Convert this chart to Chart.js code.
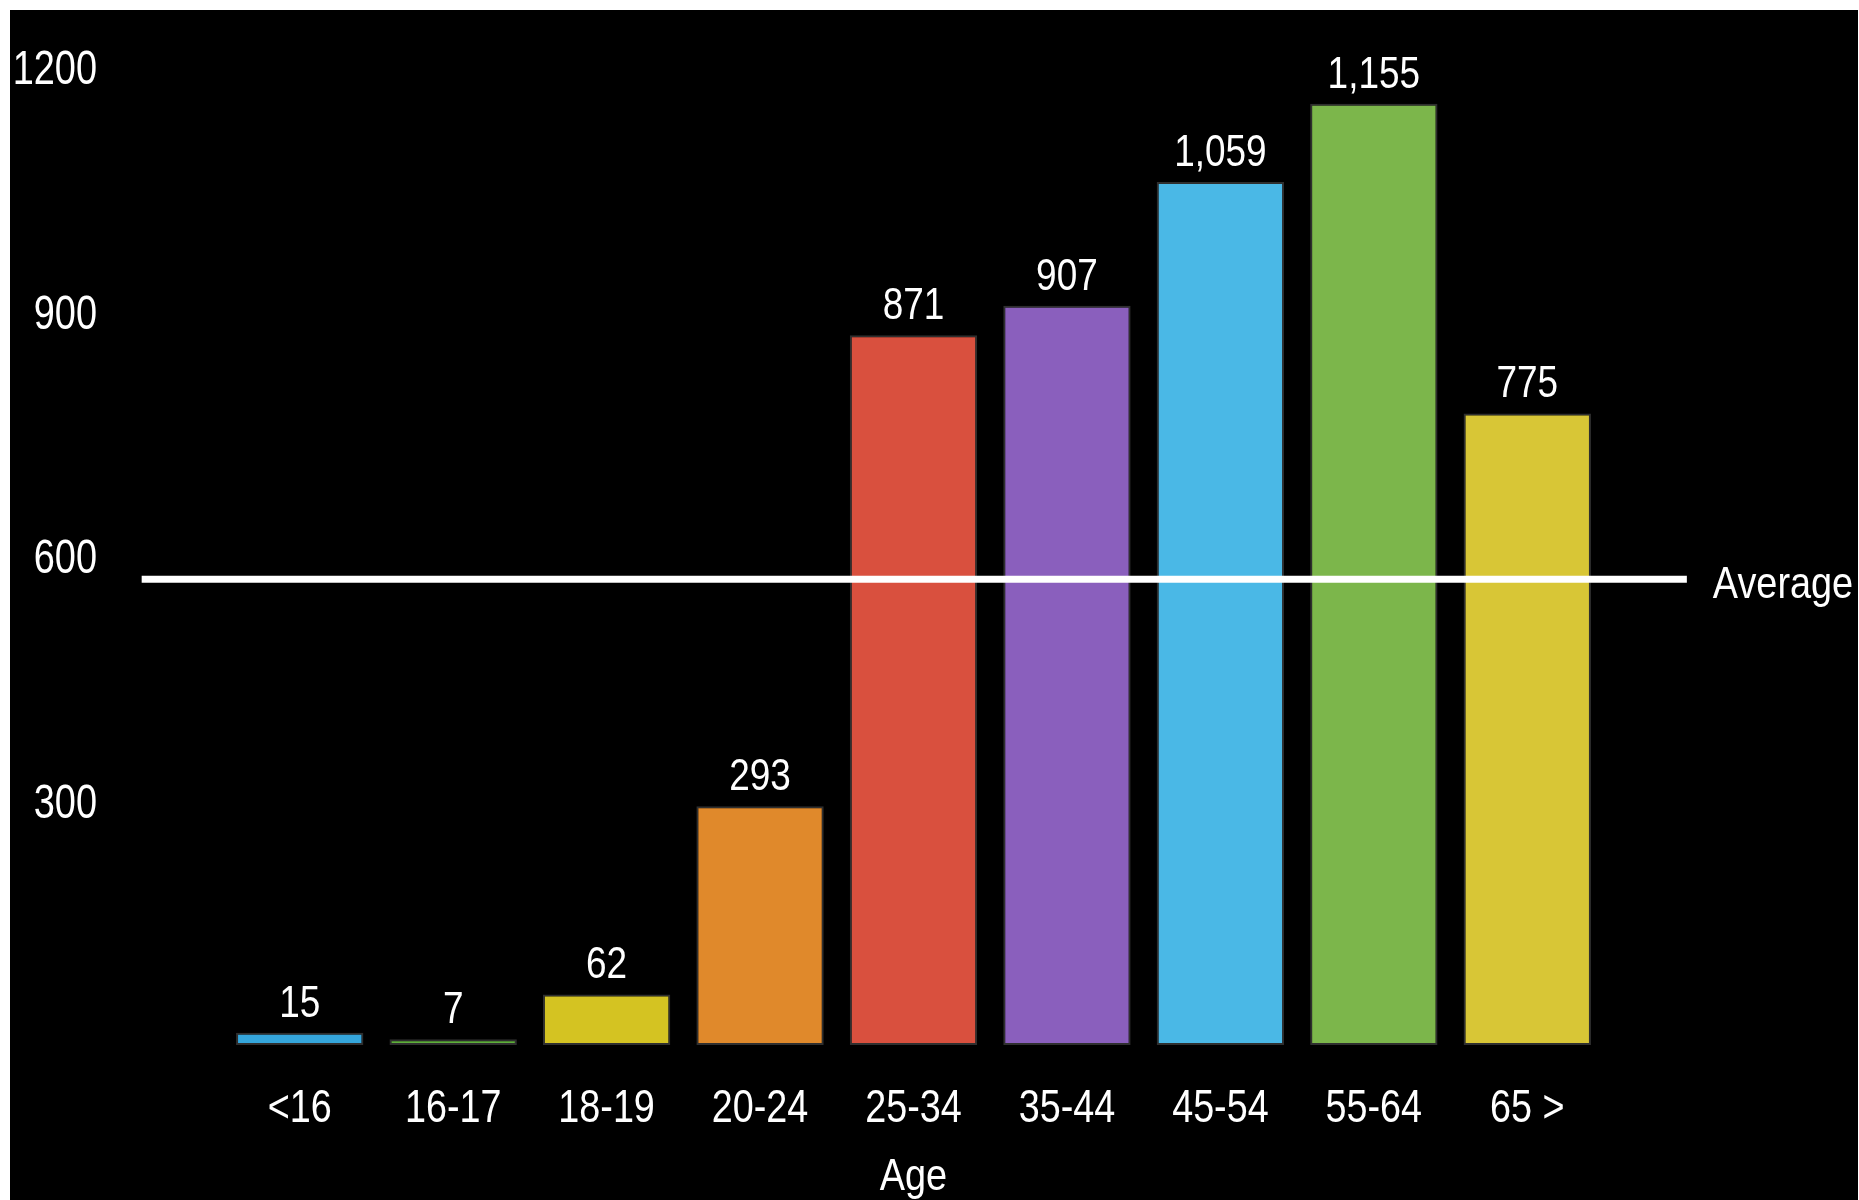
<!DOCTYPE html>
<html>
<head>
<meta charset="utf-8">
<script src="https://cdn.jsdelivr.net/npm/chart.js@4/dist/chart.umd.min.js"></script>
<style>
  html, body { margin: 0; padding: 0; background: #ffffff; }
  #wrap { position: absolute; left: 10px; top: 10px; width: 1848px; height: 1190px; background: #000000; }
</style>
</head>
<body>
<div id="wrap"><canvas id="chart"></canvas></div>
<script>
  'use strict';

  const AGE_GROUPS = ['<16', '16-17', '18-19', '20-24', '25-34', '35-44', '45-54', '55-64', '65 >'];
  const COUNTS = [15, 7, 62, 293, 871, 907, 1059, 1155, 775];
  const BAR_COLORS = ['#35a6dc', '#5fae3c', '#d4c322', '#e0892b', '#d9503e', '#8a5fbd', '#4ab8e6', '#7cb64b', '#d8c636'];
  const Y_TICKS = [300, 600, 900, 1200];
  const AVERAGE_LABEL = 'Average';
  const X_TITLE = 'Age';

  const FONT = '"Liberation Sans", Arial, sans-serif';

  const average = COUNTS.reduce(function (a, b) { return a + b; }, 0) / COUNTS.length;

  // no condensed face installed, so squeeze Liberation Sans horizontally
  function narrowText(ctx, text, x, y, size, squeeze, align) {
    ctx.save();
    ctx.font = size + 'px ' + FONT;
    ctx.fillStyle = '#ffffff';
    ctx.textAlign = align;
    ctx.textBaseline = 'alphabetic';
    ctx.translate(x, y);
    ctx.scale(squeeze, 1);
    ctx.fillText(text, 0, 0);
    ctx.restore();
  }

  const averageLine = {
    id: 'averageLine',
    afterDatasetsDraw(chart) {
      const ctx = chart.ctx;
      const y = chart.scales.y.getPixelForValue(average);
      const x0 = chart.scales.x.getPixelForValue(-1.03);
      const x1 = chart.scales.x.getPixelForValue(9.04);
      ctx.save();
      ctx.strokeStyle = '#ffffff';
      ctx.lineWidth = 7;
      ctx.beginPath();
      ctx.moveTo(x0, y);
      ctx.lineTo(x1, y);
      ctx.stroke();
      ctx.restore();
      narrowText(ctx, AVERAGE_LABEL, x1 + 26, y + 19, 44, 0.86, 'left');
    },
  };

  const textLayer = {
    id: 'textLayer',
    afterDatasetsDraw(chart) {
      const ctx = chart.ctx;
      const area = chart.chartArea;
      const xs = chart.scales.x;
      const ys = chart.scales.y;

      // value labels above bars
      chart.getDatasetMeta(0).data.forEach(function (bar, i) {
        narrowText(ctx, COUNTS[i].toLocaleString('en-US'), bar.x, bar.y - 16, 44, 0.84, 'center');
      });

      // y tick labels
      Y_TICKS.forEach(function (v) {
        narrowText(ctx, String(v), area.left - 126, ys.getPixelForValue(v) + 17, 48, 0.79, 'right');
      });

      // x tick labels + title
      AGE_GROUPS.forEach(function (label, i) {
        narrowText(ctx, label, xs.getPixelForValue(i), area.bottom + 77, 46, 0.82, 'center');
      });
      narrowText(ctx, X_TITLE, (area.left + area.right) / 2, area.bottom + 145, 44, 0.86, 'center');
    },
  };

  new Chart(document.getElementById('chart'), {
    type: 'bar',
    data: {
      labels: AGE_GROUPS,
      datasets: [{
        data: COUNTS,
        backgroundColor: BAR_COLORS,
        borderColor: '#2f2f2f',
        borderWidth: 2,
        borderSkipped: false,
        categoryPercentage: 1,
        barPercentage: 0.83,
      }],
    },
    options: {
      responsive: true,
      maintainAspectRatio: false,
      animation: false,
      layout: { padding: { top: 57, right: 254, left: 0, bottom: 0 } },
      plugins: {
        legend: { display: false },
        tooltip: { enabled: false },
      },
      scales: {
        x: {
          grid: { display: false },
          border: { display: false },
          ticks: { display: false },
          afterFit(scale) {
            scale.height = 155;
            scale.paddingLeft = 0;
            scale.paddingRight = 0;
          },
        },
        y: {
          min: 0,
          max: 1200,
          grid: { display: false },
          border: { display: false },
          ticks: { display: false },
          afterBuildTicks(scale) {
            scale.ticks = Y_TICKS.map(function (v) { return { value: v }; });
          },
          afterFit(scale) {
            scale.width = 213;
            scale.paddingTop = 0;
            scale.paddingBottom = 0;
          },
        },
      },
    },
    plugins: [averageLine, textLayer],
  });
</script>
</body>
</html>
